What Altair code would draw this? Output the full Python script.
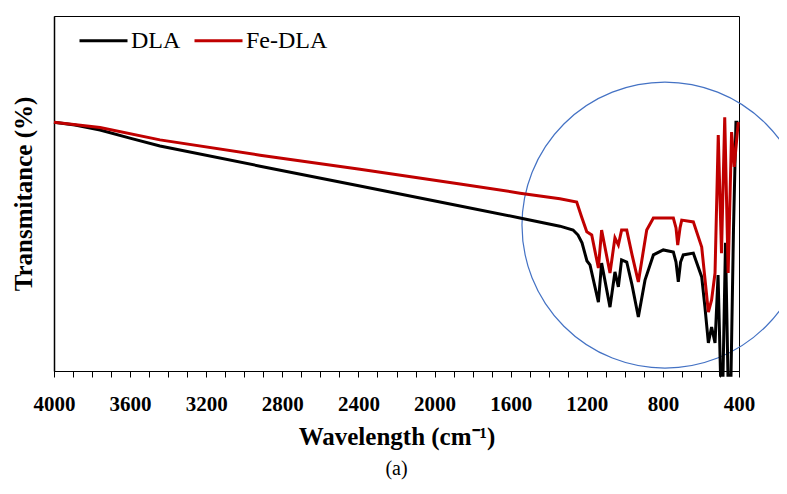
import altair as alt
import pandas as pd

# DLA spectrum (wavenumber cm-1, transmittance, arbitrary %)
dla_wn = [4000, 3890, 3758, 3601, 3443, 2917, 2392, 1866, 1551, 1341,
          1272, 1246, 1225, 1199, 1183, 1157, 1139, 1122, 1078, 1052, 1034, 1017, 990,
          962, 929, 894, 850, 798, 745, 731, 719, 707, 693, 640, 596, 579, 561, 544,
          526, 510, 497, 484, 471, 458, 442, 429, 416, 403]
dla_t = [70.1, 69.3, 67.9, 65.6, 63.4, 57.7, 52.1, 46.5, 43.1, 40.8,
         39.7, 38.3, 36.1, 31.0, 29.9, 23.7, 19.4, 30.4, 18.0, 27.9, 23.7, 31.3, 30.7,
         24.2, 15.2, 25.6, 32.7, 34.1, 33.5, 30.7, 25.1, 30.7, 32.7, 33.2, 26.5, 18.0,
         7.9, 12.4, 7.9, 27.0, -1.2, -1.2, 36.1, -1.2, -1.2, 39.7, 70.1, 70.1]

# Fe-DLA spectrum
fe_wn = [4000, 3758, 3443, 2917, 2392, 1866, 1551, 1341, 1253, 1227, 1200, 1174, 1139,
         1122, 1078, 1052, 1034, 1017, 990, 962, 929, 885, 850, 745, 731, 722, 710,
         701, 640, 596, 561, 544, 526, 509, 492, 475, 457, 439, 425, 404]
fe_t = [70.1, 68.6, 65.1, 60.8, 56.8, 52.7, 50.1, 48.5, 47.6, 43.4, 39.2, 38.3, 29.0,
        39.7, 27.6, 37.5, 35.5, 39.7, 39.7, 32.7, 25.1, 39.7, 43.1, 43.1, 40.3, 35.5,
        40.3, 42.5, 42.0, 34.9, 16.6, 20.0, 27.6, 66.5, 33.2, 71.5, 27.6, 67.3, 57.5, 70.1]

series_names = ["DLA", "Fe-DLA"]
series_colors = ["#000000", "#C00000"]
x_ticks = list(range(400, 4001, 100))

# highlight circle annotation (center)
circle_wn = [789]
circle_t = [41.1]

rows = []
for i, (w, t) in enumerate(zip(dla_wn, dla_t)):
    rows.append({"wn": w, "t": t, "series": "DLA", "order": i})
for i, (w, t) in enumerate(zip(fe_wn, fe_t)):
    rows.append({"wn": w, "t": t, "series": "Fe-DLA", "order": i})
df = pd.DataFrame(rows)
circ = pd.DataFrame({"wn": circle_wn, "t": circle_t})

FONT = "Liberation Serif"

xscale = alt.Scale(domain=[4000, 400], nice=False, zero=False)
yscale = alt.Scale(domain=[0, 100], nice=False, zero=False)

xaxis = alt.Axis(
    values=x_ticks,
    labelExpr="datum.value % 400 === 0 ? datum.label : ''",
    format="d",
    title="Wavelength (cm⁻¹)",
    titleFont=FONT, titleFontSize=25, titleFontWeight="bold", titleColor="black",
    titlePadding=10,
    labelFont=FONT, labelFontSize=21, labelFontWeight="bold", labelColor="black",
    labelPadding=16, labelFlush=False,
    tickSize=6, tickColor="black", tickWidth=1,
    domainColor="black", domainWidth=1, grid=False,
)
yaxis = alt.Axis(
    title="Transmitance (%)",
    titleFont=FONT, titleFontSize=25, titleFontWeight="bold", titleColor="black",
    titlePadding=18,
    labels=False, ticks=False, grid=False, domainColor="black", domainWidth=1.5,
)

circle = alt.Chart(circ).mark_point(
    shape="circle", filled=False, size=81796, stroke="#4472C4", strokeWidth=1.2, opacity=1, clip=False
).encode(
    x=alt.X("wn:Q", scale=xscale, axis=xaxis),
    y=alt.Y("t:Q", scale=yscale, axis=yaxis),
)

lines = alt.Chart(df).mark_line(strokeWidth=3, clip=False).encode(
    x=alt.X("wn:Q", scale=xscale, axis=xaxis),
    y=alt.Y("t:Q", scale=yscale, axis=yaxis),
    color=alt.Color(
        "series:N",
        scale=alt.Scale(domain=series_names, range=series_colors),
        legend=alt.Legend(
            title=None, orient="none", legendX=24, legendY=-1, direction="horizontal",
            symbolType="stroke", symbolSize=2304, symbolStrokeWidth=3,
            labelFont=FONT, labelFontSize=24, labelColor="black",
            labelOffset=2, columnPadding=7, padding=0,
        ),
    ),
    order="order:Q",
)

chart = alt.layer(circle, lines).properties(
    width=685, height=355,
    title=alt.TitleParams(text="(a)", orient="bottom", font=FONT, fontSize=20,
                          fontWeight="normal", color="black", offset=10),
    autosize=alt.AutoSizeParams(type="none"),
    padding={"left": 46, "top": 8, "right": 40, "bottom": 114},
).configure_view(stroke="black", strokeWidth=1)

chart.save("out.html", embed_options={"renderer": "svg", "actions": False})
